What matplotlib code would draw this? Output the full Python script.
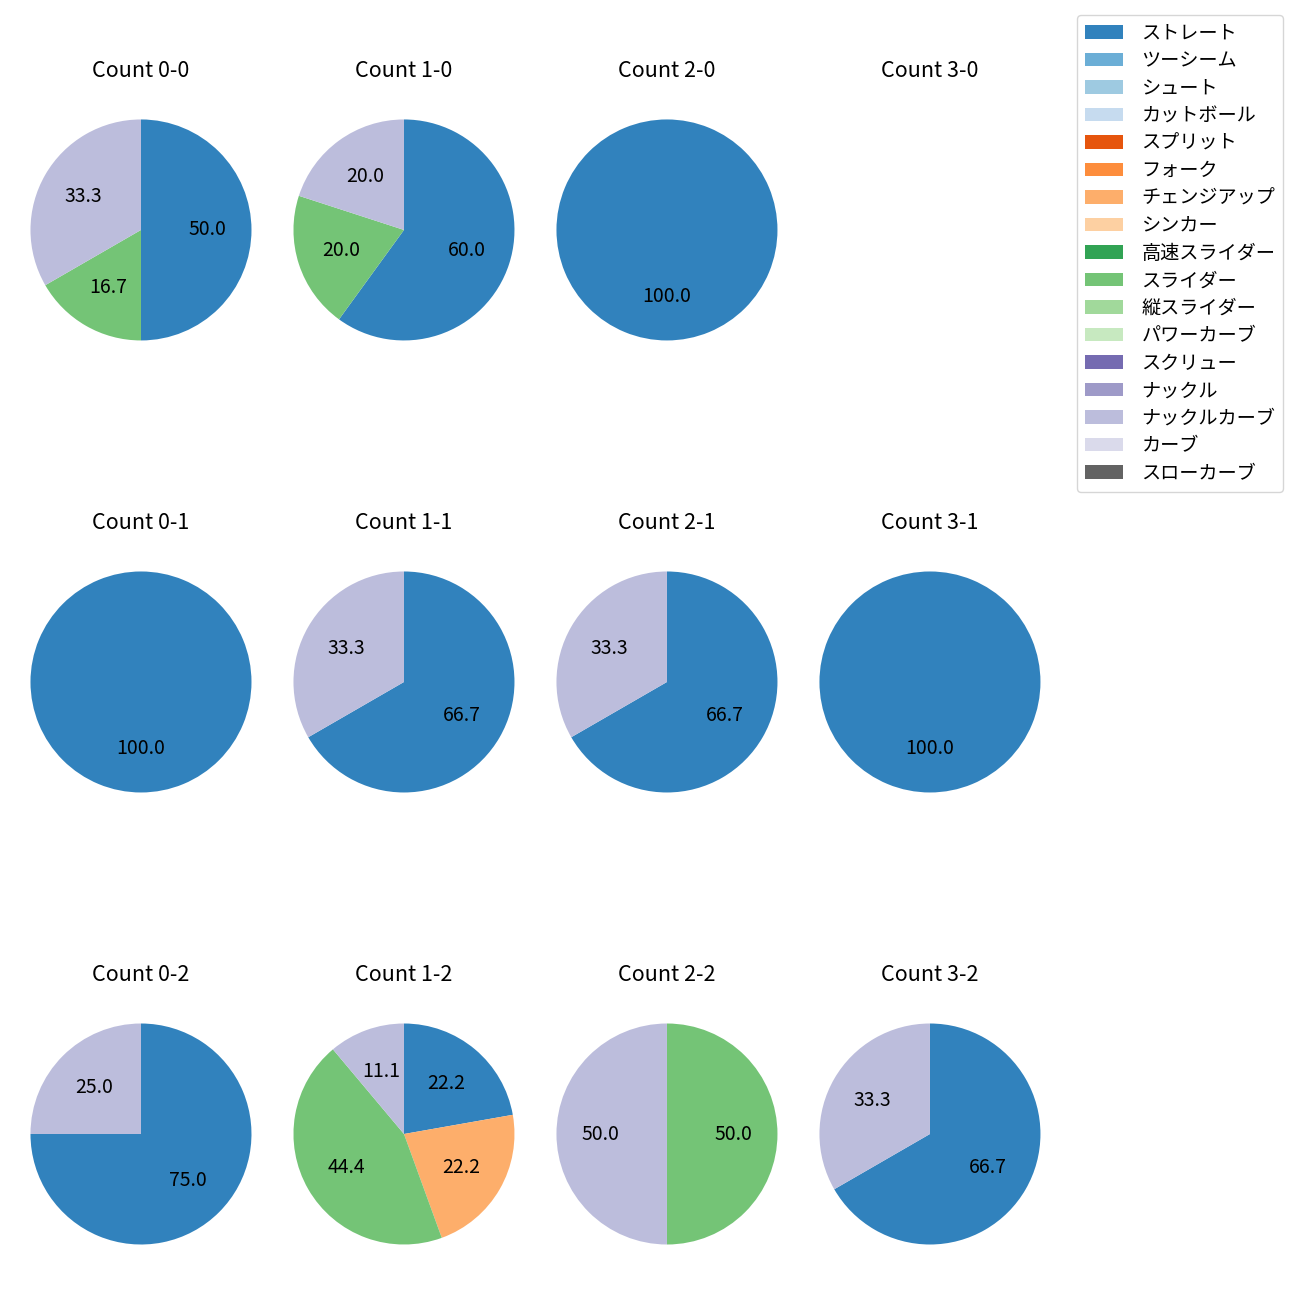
import numpy as np
import matplotlib
matplotlib.use('Agg')
from matplotlib import pyplot as plt
from matplotlib.patches import Patch

plt.rcParams['font.family'] = ['Noto Sans CJK JP', 'DejaVu Sans']

pitch_types = ['ストレート', 'ツーシーム', 'シュート', 'カットボール', 'スプリット', 'フォーク',
               'チェンジアップ', 'シンカー', '高速スライダー', 'スライダー', '縦スライダー',
               'パワーカーブ', 'スクリュー', 'ナックル', 'ナックルカーブ', 'カーブ', 'スローカーブ']
colors = plt.get_cmap('tab20c').colors[:len(pitch_types)]

# pitch counts per ball-strike count (balls-strikes), keyed by pitch type
count_0_0 = {'ストレート': 3, 'スライダー': 1, 'ナックルカーブ': 2}
count_1_0 = {'ストレート': 3, 'スライダー': 1, 'ナックルカーブ': 1}
count_2_0 = {'ストレート': 1}
count_3_0 = {}
count_0_1 = {'ストレート': 1}
count_1_1 = {'ストレート': 2, 'ナックルカーブ': 1}
count_2_1 = {'ストレート': 2, 'ナックルカーブ': 1}
count_3_1 = {'ストレート': 1}
count_0_2 = {'ストレート': 3, 'ナックルカーブ': 1}
count_1_2 = {'ストレート': 2, 'チェンジアップ': 2, 'スライダー': 4, 'ナックルカーブ': 1}
count_2_2 = {'スライダー': 1, 'ナックルカーブ': 1}
count_3_2 = {'ストレート': 2, 'ナックルカーブ': 1}

grid = [
    [('0-0', count_0_0), ('1-0', count_1_0), ('2-0', count_2_0), ('3-0', count_3_0)],
    [('0-1', count_0_1), ('1-1', count_1_1), ('2-1', count_2_1), ('3-1', count_3_1)],
    [('0-2', count_0_2), ('1-2', count_1_2), ('2-2', count_2_2), ('3-2', count_3_2)],
]

fig, axes = plt.subplots(3, 4, figsize=(13, 13), dpi=100)
fig.subplots_adjust(left=0.0073, right=0.8165, top=0.9385, bottom=0.0123,
                    wspace=0.0, hspace=0.5067)

for r, row in enumerate(grid):
    for c, (label, data) in enumerate(row):
        ax = axes[r][c]
        ax.set_title('Count ' + label, fontsize=15.5, pad=15.5)
        if data:
            names = [p for p in pitch_types if p in data]
            vals = [data[p] for p in names]
            cols = [colors[pitch_types.index(p)] for p in names]
            ax.pie(vals, colors=cols, startangle=90, counterclock=False,
                   autopct='%.1f', textprops={'fontsize': 14})
            ax.set_xlim(-1.19, 1.19)
            ax.set_ylim(-1.19, 1.19)
            ax.set_aspect('equal')
        else:
            ax.set_aspect('equal')
            ax.axis('off')

handles = [Patch(facecolor=colors[i], label=p) for i, p in enumerate(pitch_types)]
fig.legend(handles=handles, loc='upper right', bbox_to_anchor=(0.987, 0.9885),
           borderaxespad=0, fontsize=13.8, labelspacing=0.34, handletextpad=0.95)

fig.savefig('out.png')
